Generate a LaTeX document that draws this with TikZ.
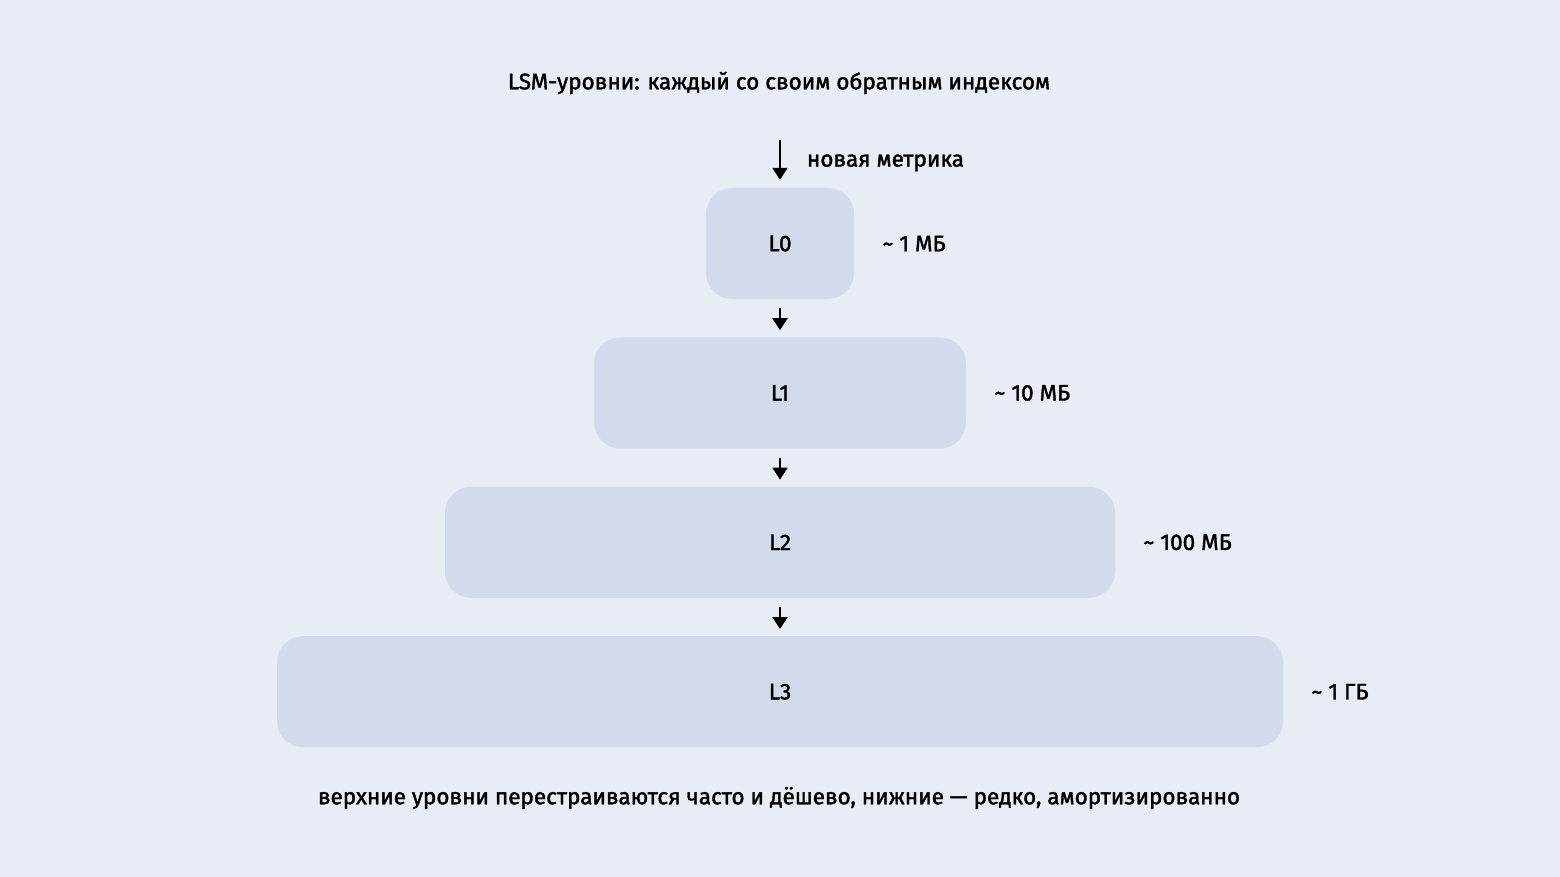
\documentclass[tikz,border=0pt]{standalone}
\usepackage{fontspec}
\setmainfont{Fira Sans}[FakeBold=1.6]
\usetikzlibrary{positioning,arrows.meta}

\definecolor{bgcol}{RGB}{232,236,245}
\definecolor{levelcol}{RGB}{211,218,235}

\tikzset{
  level/.style={fill=levelcol, rounded corners=26pt, minimum height=111pt, inner sep=0pt, font=\fontsize{22.5}{27}\selectfont},
  size/.style={inner sep=0pt, font=\fontsize{22.5}{27}\selectfont},
  flow/.style={-{Triangle[length=12pt,width=15pt]}, line width=2pt}
}

\begin{document}
\begin{tikzpicture}[x=1pt,y=-1pt,node distance=38pt]
  \fill[bgcol] (0,0) rectangle (1560,877);
  \useasboundingbox (0,0) rectangle (1560,877);

  \node[size] (title) at (779,83) {LSM-уровни: каждый со своим обратным индексом};

  \node[level, minimum width=148pt]          (L0) at (780,243.5) {L0};
  \node[level, minimum width=372pt, below=of L0] (L1) {L1};
  \node[level, minimum width=670pt, below=of L1] (L2) {L2};
  \node[level, minimum width=1006pt, below=of L2] (L3) {L3};

  \node[size, right=28pt of L0] (s0) {\textasciitilde{} 1 МБ};
  \node[size, right=28pt of L1] (s1) {\textasciitilde{} 10 МБ};
  \node[size, right=28pt of L2] (s2) {\textasciitilde{} 100 МБ};
  \node[size, right=28pt of L3] (s3) {\textasciitilde{} 1 ГБ};

  \coordinate (src) at (780,140);
  \draw[flow] (src) -- ([yshift=8pt]L0.north)
    node[size, midway, right=26pt, anchor=west, yshift=-3pt] (new) {новая метрика};
  \draw[flow] ([yshift=-9pt]L0.south) -- ([yshift=7pt]L1.north);
  \draw[flow] ([yshift=-9pt]L1.south) -- ([yshift=7pt]L2.north);
  \draw[flow] ([yshift=-9pt]L2.south) -- ([yshift=7pt]L3.north);

  \node[size] (note) at (779,798) {верхние уровни перестраиваются часто и дёшево, нижние — редко, амортизированно};
\end{tikzpicture}
\end{document}
